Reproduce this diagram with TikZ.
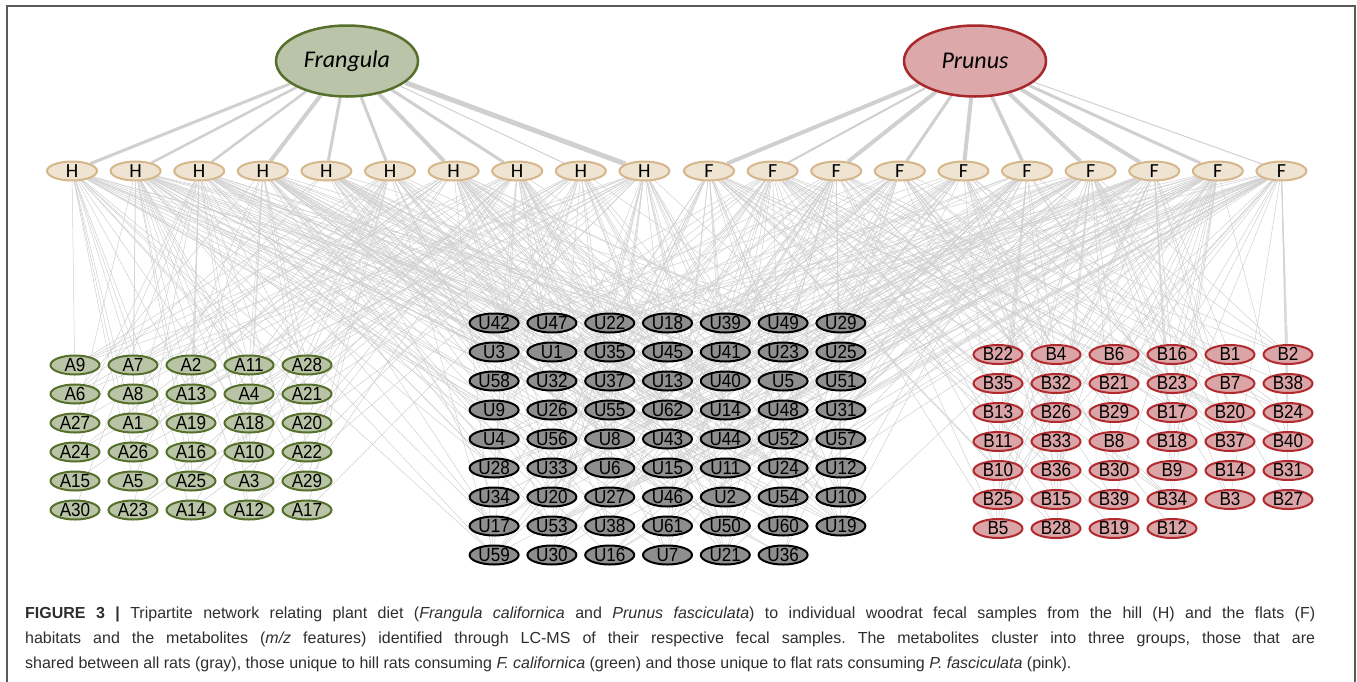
\documentclass[tikz,border=0pt]{standalone}
\usepackage{fontspec}
\setmainfont{Liberation Sans}
\newfontfamily\ratfont{Carlito}
\newfontfamily\metabfont[FakeStretch=0.9]{Liberation Sans}
\usetikzlibrary{matrix,shapes.geometric}
\pgfdeclarelayer{background}
\pgfsetlayers{background,main}
\definecolor{frangulafill}{HTML}{B9C4A9}
\definecolor{frangulaline}{HTML}{56702C}
\definecolor{prunusfill}{HTML}{DCA8AA}
\definecolor{prunusline}{HTML}{A8282C}
\definecolor{ratfill}{HTML}{EFE3D2}
\definecolor{ratline}{HTML}{D6B68B}
\definecolor{sharedfill}{HTML}{8E8E8E}
\definecolor{hillfill}{HTML}{B9C4A6}
\definecolor{flatfill}{HTML}{DBA5A7}
\definecolor{flatline}{HTML}{B02A2E}
\definecolor{linkgray}{HTML}{D0D0D0}
\definecolor{capgray}{HTML}{2E2E2E}
\frenchspacing
\tikzset{
  plant/.style={ellipse, line width=2.5pt, minimum width=142pt, minimum height=71pt, inner sep=0pt,
    font=\ratfont\itshape\fontsize{24}{24}\selectfont},
  rat/.style={ellipse, draw=ratline, fill=ratfill, line width=2pt, minimum width=50pt, minimum height=19pt,
    inner sep=0pt, text height=12.5pt, text depth=0pt, font=\ratfont\fontsize{20}{20}\selectfont},
  metab/.style={ellipse, line width=2pt, minimum width=49pt, minimum height=19pt, inner sep=0pt,
    text height=12.5pt, text depth=0pt, font=\metabfont\fontsize{19}{19}\selectfont},
  weblink/.style={draw=linkgray, line width=0.5pt},
  dietlink/.style={draw=linkgray, line width=#1},
  captext/.style={anchor=base west, inner sep=0pt, text=capgray, font=\fontsize{16}{16}\selectfont},
}
\begin{document}
\begin{tikzpicture}[x=1pt, y=-1pt, ampersand replacement=\&]
  \useasboundingbox (0,0) rectangle (1357,681);
  \draw[line width=1.5pt, draw=black!65] (7,690) -- (7,6) -- (1355,6) -- (1355,690);

  % plants
  \node[plant, draw=frangulaline, fill=frangulafill] (frangula) at (347,61) {Frangula};
  \node[plant, draw=prunusline, fill=prunusfill] (prunus) at (975,61) {Prunus};

  % rats, hill and flats
  \foreach \i in {1,...,10} {
    \node[rat] (h\i) at ({72+63.6*(\i-1)},171) {H};
    \node[rat] (f\i) at ({709+63.6*(\i-1)},171) {F};
  }

  % metabolites
  \matrix (a) [matrix of nodes, nodes={metab, draw=frangulaline, fill=hillfill},
    column sep=7pt, row sep=8pt] at (191,437.5)
  { A9 \& A7 \& A2 \& A11 \& A28 \\
    A6 \& A8 \& A13 \& A4 \& A21 \\
    A27 \& A1 \& A19 \& A18 \& A20 \\
    A24 \& A26 \& A16 \& A10 \& A22 \\
    A15 \& A5 \& A25 \& A3 \& A29 \\
    A30 \& A23 \& A14 \& A12 \& A17 \\};
  \matrix (u) [matrix of nodes, nodes={metab, draw=black, fill=sharedfill},
    column sep=6.8pt, row sep=8pt] at (667.5,439)
  { U42 \& U47 \& U22 \& U18 \& U39 \& U49 \& U29 \\
    U3 \& U1 \& U35 \& U45 \& U41 \& U23 \& U25 \\
    U58 \& U32 \& U37 \& U13 \& U40 \& U5 \& U51 \\
    U9 \& U26 \& U55 \& U62 \& U14 \& U48 \& U31 \\
    U4 \& U56 \& U8 \& U43 \& U44 \& U52 \& U57 \\
    U28 \& U33 \& U6 \& U15 \& U11 \& U24 \& U12 \\
    U34 \& U20 \& U27 \& U46 \& U2 \& U54 \& U10 \\
    U17 \& U53 \& U38 \& U61 \& U50 \& U60 \& U19 \\
    U59 \& U30 \& U16 \& U7 \& U21 \& U36 \\};
  \matrix (b) [matrix of nodes, nodes={metab, draw=flatline, fill=flatfill},
    column sep=7pt, row sep=8pt] at (1143,441.5)
  { B22 \& B4 \& B6 \& B16 \& B1 \& B2 \\
    B35 \& B32 \& B21 \& B23 \& B7 \& B38 \\
    B13 \& B26 \& B29 \& B17 \& B20 \& B24 \\
    B11 \& B33 \& B8 \& B18 \& B37 \& B40 \\
    B10 \& B36 \& B30 \& B9 \& B14 \& B31 \\
    B25 \& B15 \& B39 \& B34 \& B3 \& B27 \\
    B5 \& B28 \& B19 \& B12 \\};

  \begin{pgfonlayer}{background}
    % diet links
    \foreach \i/\w in {1/3pt,2/2.5pt,3/2.5pt,4/4pt,5/3pt,6/3pt,7/4pt,8/3pt,9/1pt,10/5pt}
      \path[dietlink=\w] (frangula) -- (h\i);
    \foreach \i/\w in {1/4pt,2/2pt,3/4pt,4/3pt,5/4pt,6/3.5pt,7/4pt,8/4pt,9/3pt,10/1pt}
      \path[dietlink=\w] (prunus) -- (f\i);
    % sample to metabolite links
    \pgfmathsetseed{17}
    \foreach \r in {1,...,6} {
      \foreach \c in {1,...,5} {
        \foreach \k in {1,...,10} {
          \pgfmathtruncatemacro\hit{rnd<0.32}
          \ifnum\hit=1 \path[weblink] (a-\r-\c) -- (h\k);\fi
        }
      }
    }
    \foreach \r in {1,...,9} {
      \foreach \c in {1,...,7} {
        \pgfmathtruncatemacro\real{(\r<9)||(\c<7)}
        \ifnum\real=1
          \foreach \k in {1,...,10} {
            \pgfmathtruncatemacro\hit{rnd<0.32}
            \ifnum\hit=1 \path[weblink] (u-\r-\c) -- (h\k);\fi
            \pgfmathtruncatemacro\hit{rnd<0.32}
            \ifnum\hit=1 \path[weblink] (u-\r-\c) -- (f\k);\fi
          }
        \fi
      }
    }
    \foreach \r in {1,...,7} {
      \foreach \c in {1,...,6} {
        \pgfmathtruncatemacro\real{(\r<7)||(\c<5)}
        \ifnum\real=1
          \foreach \k in {1,...,10} {
            \pgfmathtruncatemacro\hit{rnd<0.3}
            \ifnum\hit=1 \path[weblink] (b-\r-\c) -- (f\k);\fi
          }
        \fi
      }
    }
  \end{pgfonlayer}

  % caption
  \node[captext] (cap1) at (25,618) {\makebox[1290pt][s]{\textbf{FIGURE 3 |} Tripartite network relating plant diet (\textit{Frangula californica} and \textit{Prunus fasciculata}) to individual woodrat fecal samples from the hill (H) and the flats (F)}};
  \node[captext] (cap2) at (25,643) {\makebox[1290pt][s]{habitats and the metabolites (\textit{m/z} features) identified through LC-MS of their respective fecal samples. The metabolites cluster into three groups, those that are}};
  \node[captext] (cap3) at (25,668) {shared between all rats (gray), those unique to hill rats consuming \textit{F. californica} (green) and those unique to flat rats consuming \textit{P. fasciculata} (pink).};
\end{tikzpicture}
\end{document}
